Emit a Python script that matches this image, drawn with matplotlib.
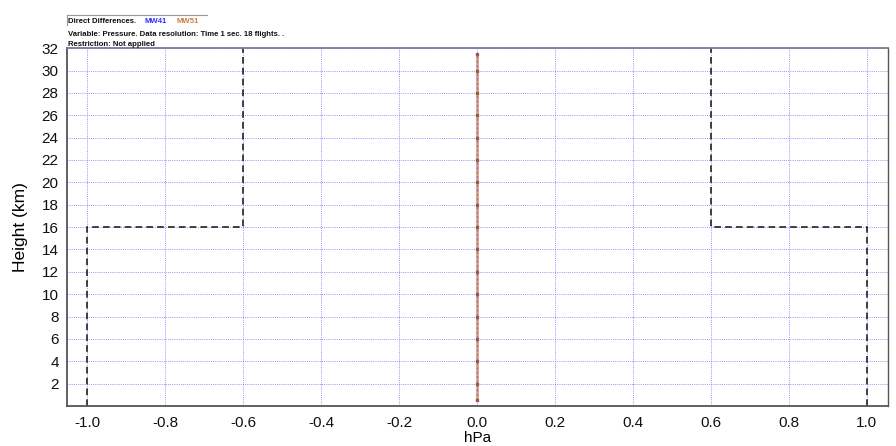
import matplotlib
matplotlib.use("Agg")
import matplotlib.pyplot as plt

plt.rcParams["font.family"] = ["Liberation Sans", "DejaVu Sans"]

# Mean pressure differences (hPa) against height (km)
heights = [0.5, 2, 4, 6, 8, 10, 12, 14, 16, 18, 20, 22, 24, 26, 28, 30, 31.5]
mw41_diff = [0.0, 0.0, 0.0, 0.0, 0.0, 0.0, 0.0, 0.0, 0.0, 0.0, 0.0, 0.0, 0.0, 0.0, 0.0, 0.0, 0.0]
mw51_diff = [0.0, 0.0, 0.0, 0.0, 0.0, 0.0, 0.0, 0.0, 0.0, 0.0, 0.0, 0.0, 0.0, 0.0, 0.0, 0.0, 0.0]

# Tolerance envelope (hPa) with a step at 16 km
limit_heights = [0, 16, 16, 32]
limit_values = [1.0, 1.0, 0.6, 0.6]

x_ticks = [-1.0, -0.8, -0.6, -0.4, -0.2, 0.0, 0.2, 0.4, 0.6, 0.8, 1.0]
y_ticks = [2, 4, 6, 8, 10, 12, 14, 16, 18, 20, 22, 24, 26, 28, 30, 32]

fig = plt.figure(figsize=(8.96, 4.46), dpi=100)
ax = fig.add_axes([0.0748, 0.0897, 0.9162, 0.8023])

ax.set_xlim(-1.052, 1.054)
ax.set_ylim(0, 32)

ax.grid(True, color="#7070ff", linestyle=(0, (1, 1.2)), linewidth=0.7, alpha=0.75)
ax.set_axisbelow(True)

# Envelope on both sides
ax.plot([-v for v in limit_values], limit_heights, color="#222222", linestyle=(0, (4, 2.5)), linewidth=1.2)
ax.plot(limit_values, limit_heights, color="#222222", linestyle=(0, (4, 2.5)), linewidth=1.2)

# Difference profiles
ax.plot(mw51_diff, heights, color="#e0a070", linewidth=2.2, alpha=0.9)
ax.plot(mw41_diff, heights, color="#7070ff", linewidth=0.8, linestyle=(0, (2, 2)))
ax.plot(mw51_diff, heights, linestyle="none", marker="s", markersize=2.0, color="#9a5a40")

ax.set_xticks(x_ticks)
ax.set_xticklabels([f"{v:.1f}" for v in x_ticks])
ax.set_yticks(y_ticks)
ax.tick_params(axis="both", length=0, labelsize=11, colors="#111111")
ax.tick_params(axis="x", pad=7)
ax.tick_params(axis="y", pad=6)

for side in ["left", "bottom"]:
    ax.spines[side].set_color("#555555")
    ax.spines[side].set_linewidth(1.3)
ax.spines["top"].set_color("#7a7a9a")
ax.spines["top"].set_linewidth(1.3)
ax.spines["right"].set_color("#555555")
ax.spines["right"].set_linewidth(1.0)

ax.set_ylabel("Height (km)", fontsize=12.5, labelpad=10)
ax.set_xlabel("hPa", fontsize=11, labelpad=1)

# Header block
hdr = dict(fontsize=5.6, fontweight="bold", color="#111111")
fig.text(0.076, 0.948, "Direct Differences.", **hdr)
fig.text(0.161, 0.948, "MW41", fontsize=5.6, fontweight="bold", color="#3030ff")
fig.text(0.197, 0.948, "MW51", fontsize=5.6, fontweight="bold", color="#d08040")
fig.text(0.076, 0.919, "Variable: Pressure. Data resolution: Time 1 sec. 18 flights. .", **hdr)
fig.text(0.076, 0.897, "Restriction: Not applied", **hdr)
fig.add_artist(plt.Line2D([0.0748, 0.231], [0.967, 0.967], color="#999999", linewidth=0.8))
fig.add_artist(plt.Line2D([0.0748, 0.0748], [0.945, 0.967], color="#999999", linewidth=0.8))

fig.savefig("out.png", dpi=100)
